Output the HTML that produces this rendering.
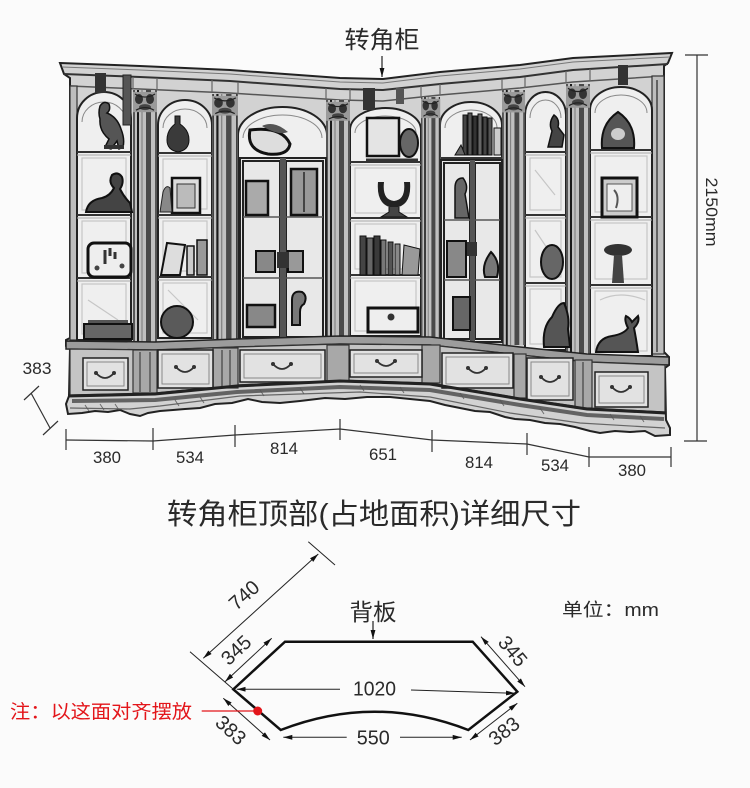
<!DOCTYPE html>
<html><head><meta charset="utf-8">
<style>
html,body{margin:0;padding:0;background:#fbfbfb;}
svg{display:block}
text{font-family:"Liberation Sans","Noto Sans CJK SC",sans-serif;fill:#2a2a2a}
</style></head><body>
<svg width="750" height="788" viewBox="0 0 750 788" xmlns="http://www.w3.org/2000/svg">
<defs>
<marker id="ah" viewBox="0 0 10 10" refX="10" refY="5" markerWidth="9" markerHeight="9" orient="auto-start-reverse" markerUnits="userSpaceOnUse">
<path d="M0,2.3 L10,5 L0,7.7 z" fill="#111"/>
</marker>
<g id="col">
<rect x="0" y="0" width="24" height="250" fill="#c0c0c0"/>
<line x1="1" y1="0" x2="1" y2="250" stroke="#333" stroke-width="1.5"/>
<line x1="5" y1="0" x2="5" y2="250" stroke="#1a1a1a" stroke-width="2"/>
<line x1="9" y1="0" x2="9" y2="250" stroke="#777" stroke-width="1"/>
<rect x="13" y="0" width="5" height="250" fill="#4a4a4a"/>
<line x1="23" y1="0" x2="23" y2="250" stroke="#333" stroke-width="1.5"/>
<rect x="0" y="2" width="24" height="20" fill="#9a9a9a"/>
<ellipse cx="6" cy="9" rx="4" ry="5" fill="#333"/>
<ellipse cx="17" cy="9" rx="4" ry="5" fill="#333"/>
<ellipse cx="12" cy="17" rx="6" ry="3" fill="#444"/>
<path d="M2,4 q10,6 20,0 M3,20 q9,-5 18,0" stroke="#222" stroke-width="1.2" fill="none"/>
</g>
</defs>

<!-- ===== TOP LABEL ===== -->
<text x="382" y="48" font-size="24" text-anchor="middle" textLength="75" lengthAdjust="spacingAndGlyphs">转角柜</text>
<line x1="382" y1="56" x2="382" y2="77" stroke="#222" stroke-width="1.2" marker-end="url(#ah)"/>

<!-- ===== CABINET ===== -->
<path d="M60,63 L140,66 L230,70 L340,78 L383,79 L440,72 L520,65 L573,58 L672,53 L668,63 L664,66 L664,352 L669,357 L669,365 L665,368 L666,420 L670,428 L670,435 L655,436 L645,431 L630,432 L615,431 L600,433 L590,431 L575,427 L560,424 L545,423 L530,420 L515,419 L505,417 L490,412 L475,411 L460,408 L445,405 L430,401 L410,399 L390,397 L367,397 L345,399 L325,398 L300,401 L280,403 L262,402 L248,399 L232,403 L215,404 L200,408 L185,409 L173,410 L160,411 L148,413 L140,416 L130,414 L120,410 L108,412 L95,411 L82,413 L68,414 L66,404 L69,396 L70,348 L66,346 L66,340 L70,338 L70,78 L64,74 Z" fill="#d2d2d2" stroke="#222" stroke-width="2"/>

<!-- cornice -->
<polyline points="64,74 140,77 230,81 340,89 383,90 440,84 520,77 573,70 668,64" fill="none" stroke="#333" stroke-width="2"/>
<polyline points="70,86 140,89 230,93 340,100 383,101 440,95 520,88 573,82 664,76" fill="none" stroke="#555" stroke-width="1.5"/>
<polyline points="62,67 140,70 230,74 340,82 383,83 440,76 520,69 573,62 670,57" fill="none" stroke="#777" stroke-width="1"/>
<g stroke="#666" stroke-width="1.2">
<line x1="133" y1="77" x2="133" y2="89"/><line x1="157" y1="78" x2="157" y2="90"/>
<line x1="212" y1="80" x2="212" y2="92"/><line x1="238" y1="82" x2="238" y2="94"/>
<line x1="326" y1="88" x2="326" y2="99"/><line x1="350" y1="89" x2="350" y2="100"/>
<line x1="421" y1="86" x2="421" y2="97"/><line x1="440" y1="84" x2="440" y2="95"/>
<line x1="502" y1="79" x2="502" y2="90"/><line x1="525" y1="77" x2="525" y2="88"/>
<line x1="566" y1="71" x2="566" y2="83"/><line x1="590" y1="69" x2="590" y2="81"/>
</g>

<!-- stiles -->
<rect x="70" y="86" width="7" height="254" fill="#bdbdbd" stroke="#333" stroke-width="1.2"/>
<rect x="652" y="76" width="12" height="278" fill="#bdbdbd" stroke="#333" stroke-width="1.2"/>
<line x1="657" y1="80" x2="657" y2="352" stroke="#444" stroke-width="1.5"/>

<!-- niches -->
<g fill="#efefef" stroke="#222" stroke-width="2">
<path d="M77,340 L77,118 A27,26 0 0 1 131,118 L131,340 Z"/>
<path d="M158,338 L158,125 A27,25 0 0 1 212,125 L212,338 Z"/>
<path d="M238,340 L238,135 A44.5,28 0 0 1 327,135 L327,340 Z"/>
<path d="M350,336 L350,130 A35.5,22 0 0 1 421,130 L421,336 Z"/>
<path d="M440,342 L440,125 A31,23 0 0 1 502,125 L502,342 Z"/>
<path d="M525,350 L525,115 A20.5,23 0 0 1 566,115 L566,350 Z"/>
<path d="M590,356 L590,110 A31,23 0 0 1 652,110 L652,356 Z"/>
</g>
<g fill="none" stroke="#888" stroke-width="1">
<path d="M82,122 A22,20 0 0 1 126,122"/>
<path d="M163,128 A22,19 0 0 1 207,128"/>
<path d="M243,138 A39.5,23 0 0 1 322,138"/>
<path d="M355,133 A30.5,17 0 0 1 416,133"/>
<path d="M445,128 A26,18 0 0 1 497,128"/>
<path d="M530,118 A15.5,18 0 0 1 561,118"/>
<path d="M595,113 A26,18 0 0 1 647,113"/>
</g>
<!-- faint back panels -->
<g fill="none" stroke="#c6c6c6" stroke-width="1.2">
<rect x="82" y="158" width="44" height="52"/><rect x="82" y="221" width="44" height="52"/><rect x="82" y="284" width="44" height="50"/>
<rect x="163" y="159" width="44" height="50"/><rect x="163" y="221" width="44" height="50"/><rect x="163" y="283" width="44" height="50"/>
<rect x="355" y="168" width="61" height="45"/><rect x="355" y="224" width="61" height="45"/><rect x="355" y="281" width="61" height="50"/>
<rect x="530" y="158" width="31" height="52"/><rect x="530" y="221" width="31" height="56"/><rect x="530" y="289" width="31" height="55"/>
<rect x="595" y="156" width="52" height="56"/><rect x="595" y="223" width="52" height="56"/><rect x="595" y="291" width="52" height="60"/>
<path d="M535,170 l20,25 M535,230 l20,30 M600,300 q20,-10 45,0 M88,300 l30,20 M168,290 l30,30"/>
</g>
<!-- shelves -->
<g stroke="#333" stroke-width="2">
<line x1="77" y1="152" x2="131" y2="152"/><line x1="77" y1="215" x2="131" y2="215"/><line x1="77" y1="278" x2="131" y2="278"/>
<line x1="158" y1="153" x2="212" y2="153"/><line x1="158" y1="215" x2="212" y2="215"/><line x1="158" y1="277" x2="212" y2="277"/>
<line x1="350" y1="162" x2="421" y2="162"/><line x1="350" y1="218" x2="421" y2="218"/><line x1="350" y1="275" x2="421" y2="275"/>
<line x1="440" y1="158" x2="502" y2="158"/>
<line x1="525" y1="152" x2="566" y2="152"/><line x1="525" y1="215" x2="566" y2="215"/><line x1="525" y1="283" x2="566" y2="283"/>
<line x1="590" y1="150" x2="652" y2="150"/><line x1="590" y1="217" x2="652" y2="217"/><line x1="590" y1="285" x2="652" y2="285"/>
</g>
<g stroke="#aaa" stroke-width="1">
<line x1="77" y1="155" x2="131" y2="155"/><line x1="77" y1="218" x2="131" y2="218"/><line x1="77" y1="281" x2="131" y2="281"/>
<line x1="158" y1="156" x2="212" y2="156"/><line x1="158" y1="218" x2="212" y2="218"/><line x1="158" y1="280" x2="212" y2="280"/>
<line x1="350" y1="165" x2="421" y2="165"/><line x1="350" y1="221" x2="421" y2="221"/><line x1="350" y1="278" x2="421" y2="278"/>
<line x1="525" y1="155" x2="566" y2="155"/><line x1="525" y1="218" x2="566" y2="218"/><line x1="525" y1="286" x2="566" y2="286"/>
<line x1="590" y1="153" x2="652" y2="153"/><line x1="590" y1="220" x2="652" y2="220"/><line x1="590" y1="288" x2="652" y2="288"/>
</g>

<!-- columns -->
<use href="#col" transform="translate(133,90) scale(1,1.008)"/>
<use href="#col" transform="translate(212,94) scale(1.083,0.98)"/>
<use href="#col" transform="translate(326,100) scale(1,0.944)"/>
<use href="#col" transform="translate(421,97) scale(0.8,0.96)"/>
<use href="#col" transform="translate(502,90) scale(0.96,1.02)"/>
<use href="#col" transform="translate(566,84) scale(1,1.08)"/>

<!-- cab1 objects -->
<rect x="95" y="73" width="11" height="20" fill="#333"/>
<rect x="123" y="75" width="8" height="50" fill="#555" stroke="#222"/>
<path d="M100,106 q4,-6 9,-2 q2,6 -2,9 q10,4 14,16 q4,10 2,18 l-4,2 l-2,-8 l-6,8 l-6,-2 l4,-8 q-10,-8 -9,-20 q-2,-6 0,-13z" fill="#555" stroke="#111" stroke-width="1.5"/>
<rect x="104" y="145" width="20" height="4" fill="#333"/>
<path d="M86,212 q2,-12 16,-14 q8,-2 12,-10 q-6,-6 -2,-13 q6,-4 10,2 q2,6 -2,12 q4,8 10,14 l2,9 z" fill="#444" stroke="#111" stroke-width="2"/>
<rect x="88" y="243" width="43" height="34" rx="6" fill="#eee" stroke="#111" stroke-width="3"/>
<path d="M105,250 v14 M110,248 v8 M115,252 v7" stroke="#333" stroke-width="3"/>
<circle cx="97" cy="268" r="2.5" fill="#444"/><circle cx="122" cy="266" r="2.5" fill="#444"/>
<rect x="88" y="320" width="40" height="6" fill="#555"/>
<rect x="84" y="324" width="48" height="15" fill="#666" stroke="#111" stroke-width="2"/>

<!-- cab2 objects -->
<path d="M175,116 h5 v8 q9,6 9,16 q0,10 -11,12 q-11,-2 -11,-12 q0,-10 8,-16z" fill="#3a3a3a" stroke="#111"/>
<rect x="172" y="178" width="28" height="35" fill="#ddd" stroke="#111" stroke-width="2.5"/>
<rect x="177" y="184" width="18" height="24" fill="#bbb" stroke="#333"/>
<path d="M160,212 l3,-20 q3,-8 7,-4 l2,24z" fill="#888" stroke="#222"/>
<path d="M161,275 l6,-32 l18,2 l-5,30z" fill="#ddd" stroke="#111" stroke-width="2"/>
<rect x="187" y="246" width="7" height="29" fill="#ccc" stroke="#111" stroke-width="1.5"/>
<rect x="197" y="240" width="10" height="35" fill="#999" stroke="#111" stroke-width="1.5"/>
<circle cx="177" cy="322" r="16" fill="#5a5a5a" stroke="#111" stroke-width="2"/>

<!-- cab3 objects and doors -->
<path d="M250,130 q-4,20 18,24 q20,2 22,-10 q-8,-18 -40,-14z" fill="#ddd" stroke="#111" stroke-width="3"/>
<path d="M262,126 q12,-6 26,6 q-10,4 -26,-6z" fill="#555"/>
<rect x="240" y="158" width="86" height="182" fill="#e8e8e8" stroke="#222" stroke-width="2"/>
<rect x="243" y="161" width="37" height="176" fill="none" stroke="#222" stroke-width="2"/>
<rect x="286" y="161" width="37" height="176" fill="none" stroke="#222" stroke-width="2"/>
<rect x="280" y="158" width="6" height="182" fill="#555"/>
<g stroke="#555" stroke-width="1.5"><line x1="243" y1="217" x2="280" y2="217"/><line x1="286" y1="217" x2="323" y2="217"/><line x1="243" y1="278" x2="280" y2="278"/><line x1="286" y1="278" x2="323" y2="278"/></g>
<rect x="246" y="181" width="22" height="34" fill="#aaa" stroke="#111" stroke-width="2.5"/>
<rect x="291" y="169" width="26" height="46" fill="#999" stroke="#111" stroke-width="2.5"/>
<line x1="304" y1="172" x2="304" y2="212" stroke="#444" stroke-width="2"/>
<rect x="256" y="251" width="19" height="21" fill="#888" stroke="#111" stroke-width="2"/>
<rect x="288" y="251" width="15" height="21" fill="#999" stroke="#111" stroke-width="2"/>
<rect x="247" y="305" width="28" height="22" fill="#888" stroke="#111" stroke-width="2.5"/>
<path d="M292,325 v-25 q0,-10 10,-8 q6,4 2,12 q-4,2 -4,8 v13z" fill="#777" stroke="#111" stroke-width="2"/>
<rect x="277" y="252" width="12" height="16" fill="#333"/>

<!-- cab4 objects -->
<rect x="363" y="88" width="12" height="22" fill="#333"/>
<rect x="396" y="88" width="8" height="16" fill="#555"/>
<rect x="367" y="118" width="32" height="38" fill="#e4e4e4" stroke="#111" stroke-width="2.5"/>
<ellipse cx="409" cy="143" rx="9" ry="14" fill="#666" stroke="#111" stroke-width="2"/>
<path d="M366,160 h52" stroke="#333" stroke-width="3"/>
<path d="M378,182 q-2,24 16,26 q18,-2 16,-26 l-6,0 q2,18 -10,19 q-12,-1 -10,-19z" fill="#222"/>
<path d="M389,207 v5 l-8,5 h26 l-8,-5 v-5" fill="#444" stroke="#111"/>
<g stroke="#111" stroke-width="1">
<rect x="360" y="236" width="6" height="39" fill="#444"/>
<rect x="367" y="238" width="6" height="37" fill="#666"/>
<rect x="374" y="236" width="6" height="39" fill="#3a3a3a"/>
<rect x="381" y="240" width="5" height="35" fill="#777"/>
<rect x="388" y="242" width="5" height="33" fill="#555"/>
<rect x="395" y="244" width="5" height="31" fill="#888"/>
<path d="M402,275 l2,-30 l16,4 l-2,26z" fill="#999"/>
</g>
<rect x="368" y="308" width="50" height="24" fill="#eee" stroke="#111" stroke-width="3"/>
<circle cx="391" cy="317" r="3.5" fill="#333"/>

<!-- cab5 objects and doors -->
<g stroke="#111" stroke-width="1">
<rect x="463" y="115" width="4" height="40" fill="#444"/><rect x="468" y="113" width="4" height="42" fill="#555"/>
<rect x="473" y="116" width="4" height="39" fill="#333"/><rect x="478" y="114" width="4" height="41" fill="#666"/>
<rect x="483" y="117" width="4" height="38" fill="#444"/><rect x="488" y="118" width="4" height="37" fill="#555"/>
<rect x="494" y="128" width="7" height="27" fill="#ccc"/>
<path d="M455,155 l6,-10 l4,10z" fill="#666"/>
</g>
<rect x="441" y="160" width="61" height="182" fill="#e8e8e8" stroke="#222" stroke-width="2"/>
<rect x="444" y="163" width="26" height="176" fill="none" stroke="#222" stroke-width="2"/>
<rect x="475" y="163" width="25" height="176" fill="none" stroke="#222" stroke-width="2"/>
<rect x="470" y="160" width="5" height="182" fill="#555"/>
<g stroke="#555" stroke-width="1.5"><line x1="444" y1="220" x2="470" y2="220"/><line x1="475" y1="220" x2="500" y2="220"/><line x1="444" y1="280" x2="470" y2="280"/><line x1="475" y1="280" x2="500" y2="280"/></g>
<path d="M455,218 v-30 q0,-10 8,-10 q6,8 2,16 l4,24z" fill="#666" stroke="#111" stroke-width="1.5"/>
<rect x="447" y="241" width="19" height="36" fill="#888" stroke="#111" stroke-width="2"/>
<path d="M485,277 q-4,-12 6,-25 q10,10 6,25z" fill="#777" stroke="#111" stroke-width="2"/>
<rect x="453" y="297" width="17" height="33" fill="#666" stroke="#111" stroke-width="2"/>
<rect x="467" y="242" width="10" height="14" fill="#333"/>

<!-- cab6 objects -->
<path d="M548,147 l4,-16 q-4,-8 2,-16 q6,4 4,12 l6,8 l-2,12z" fill="#444" stroke="#111" stroke-width="1.5"/>
<ellipse cx="552" cy="262" rx="11" ry="17" fill="#666" stroke="#111" stroke-width="2"/>
<path d="M544,347 q-2,-20 8,-30 q6,-14 12,-14 q6,14 4,26 l2,18z" fill="#555" stroke="#111" stroke-width="2"/>

<!-- cab7 objects -->
<rect x="618" y="65" width="10" height="20" fill="#333"/>
<path d="M602,148 q-2,-24 16,-36 q18,12 16,36z" fill="#555" stroke="#111" stroke-width="2"/>
<ellipse cx="618" cy="134" rx="7" ry="6" fill="#ccc"/>
<rect x="602" y="178" width="35" height="39" fill="#ccc" stroke="#111" stroke-width="3"/>
<rect x="607" y="184" width="25" height="27" fill="#eee" stroke="#555"/>
<path d="M614,190 q6,6 2,18" stroke="#555" stroke-width="2" fill="none"/>
<ellipse cx="618" cy="250" rx="14" ry="6" fill="#333"/>
<path d="M614,255 h8 l2,28 h-12z" fill="#444"/>
<path d="M596,352 q2,-14 16,-16 q12,-2 16,-8 q-4,-8 -2,-12 q4,2 6,6 q4,-4 6,-6 q2,6 -4,12 q2,10 4,24z" fill="#555" stroke="#111" stroke-width="2"/>

<!-- base -->
<polygon points="66,341 155,342 237,339 340,336 430,337 520,347 587,354 669,357 669,365 587,362 520,355 430,345 340,344 237,347 155,350 66,349" fill="#9c9c9c" stroke="#222" stroke-width="1.5"/>
<polygon points="70,349 155,350 237,347 340,344 430,345 520,355 587,362 665,365 665,412 587,408 520,398 430,383 340,380 237,385 155,393 70,395" fill="#c4c4c4" stroke="#333" stroke-width="1.2"/>
<g fill="#a8a8a8" stroke="#333" stroke-width="1.2">
<rect x="133" y="350" width="24" height="43"/>
<rect x="213" y="348" width="25" height="40"/>
<rect x="327" y="345" width="22" height="36"/>
<rect x="422" y="345" width="18" height="38"/>
<rect x="514" y="354" width="12" height="44"/>
<rect x="575" y="360" width="17" height="48"/>
</g>
<g stroke="#555" stroke-width="1.5">
<line x1="140" y1="352" x2="140" y2="392"/><line x1="150" y1="352" x2="150" y2="392"/>
<line x1="222" y1="350" x2="222" y2="387"/><line x1="230" y1="350" x2="230" y2="387"/>
<line x1="583" y1="362" x2="583" y2="407"/>
</g>
<!-- drawers -->
<g fill="#e2e2e2" stroke="#222" stroke-width="1.5">
<rect x="83" y="358" width="45" height="32"/>
<rect x="158" y="350" width="55" height="38"/>
<rect x="240" y="350" width="85" height="32"/>
<rect x="350" y="350" width="72" height="27"/>
<rect x="442" y="353" width="71" height="35"/>
<rect x="527" y="358" width="46" height="42"/>
<rect x="595" y="372" width="53" height="35"/>
</g>
<g fill="none" stroke="#888" stroke-width="1">
<rect x="87" y="362" width="37" height="24"/>
<rect x="162" y="354" width="47" height="30"/>
<rect x="244" y="354" width="77" height="24"/>
<rect x="354" y="354" width="64" height="19"/>
<rect x="446" y="357" width="63" height="27"/>
<rect x="531" y="362" width="38" height="34"/>
<rect x="599" y="376" width="45" height="27"/>
</g>
<g fill="none" stroke="#333" stroke-width="1.8">
<path d="M96,373 q9,10 18,0"/>
<path d="M176,367 q9,10 18,0"/>
<path d="M273,364 q9,10 18,0"/>
<path d="M377,361 q9,10 18,0"/>
<path d="M468,368 q9,10 18,0"/>
<path d="M541,377 q9,10 18,0"/>
<path d="M612,387 q9,10 18,0"/>
</g>
<g fill="#333">
<circle cx="96" cy="373" r="2"/><circle cx="114" cy="373" r="2"/>
<circle cx="176" cy="367" r="2"/><circle cx="194" cy="367" r="2"/>
<circle cx="273" cy="364" r="2"/><circle cx="291" cy="364" r="2"/>
<circle cx="377" cy="361" r="2"/><circle cx="395" cy="361" r="2"/>
<circle cx="468" cy="368" r="2"/><circle cx="486" cy="368" r="2"/>
<circle cx="541" cy="377" r="2"/><circle cx="559" cy="377" r="2"/>
<circle cx="612" cy="387" r="2"/><circle cx="630" cy="387" r="2"/>
</g>
<polyline points="68,396 155,394 237,386 340,381 430,384 520,399 587,409 666,413" fill="none" stroke="#222" stroke-width="3"/>
<polyline points="72,401 155,400 237,392 340,387 430,390 520,405 587,415 664,419" fill="none" stroke="#333" stroke-width="4" opacity="0.7"/>
<polyline points="70,408 130,409 160,406 240,396 360,392 430,397 510,413 580,423 665,428" fill="none" stroke="#666" stroke-width="1.2"/>
<g stroke="#555" stroke-width="1" opacity="0.8">
<path d="M85,405 l4,6 M100,404 l4,6 M115,404 l4,6 M175,400 l4,6 M200,397 l4,6 M260,390 l4,6 M300,388 l4,6 M360,385 l4,6 M400,387 l4,6 M460,393 l4,6 M500,400 l4,6 M540,408 l4,6 M610,414 l4,6 M640,416 l4,6"/>
</g>

<!-- height dimension -->
<line x1="697" y1="55" x2="697" y2="441" stroke="#333" stroke-width="1.2"/>
<line x1="685" y1="55" x2="708" y2="55" stroke="#333" stroke-width="1.2"/>
<line x1="684" y1="441" x2="707" y2="441" stroke="#333" stroke-width="1.2"/>
<text transform="translate(706,212) rotate(90)" text-anchor="middle" font-size="17" textLength="69" lengthAdjust="spacingAndGlyphs">2150mm</text>

<!-- depth 383 -->
<text x="37" y="374" font-size="17" text-anchor="middle" textLength="29" lengthAdjust="spacingAndGlyphs">383</text>
<g stroke="#333" stroke-width="1.2">
<line x1="31" y1="393" x2="50" y2="428"/>
<line x1="24" y1="400" x2="39" y2="386"/>
<line x1="43" y1="435" x2="58" y2="421"/>
</g>

<!-- bottom dims -->
<polyline points="66,440 153,441 235,435 340,429 432,440 527,444 589,457 671,457" fill="none" stroke="#333" stroke-width="1.2"/>
<g stroke="#333" stroke-width="1.2">
<line x1="66" y1="429" x2="66" y2="450"/>
<line x1="153" y1="428" x2="153" y2="450"/>
<line x1="235" y1="425" x2="235" y2="447"/>
<line x1="340" y1="419" x2="340" y2="440"/>
<line x1="432" y1="430" x2="432" y2="452"/>
<line x1="527" y1="433" x2="527" y2="455"/>
<line x1="589" y1="447" x2="589" y2="467"/>
<line x1="671" y1="447" x2="671" y2="467"/>
</g>
<g font-size="17" text-anchor="middle">
<text x="107" y="463" textLength="28" lengthAdjust="spacingAndGlyphs">380</text>
<text x="190" y="463" textLength="28" lengthAdjust="spacingAndGlyphs">534</text>
<text x="284" y="454" textLength="28" lengthAdjust="spacingAndGlyphs">814</text>
<text x="383" y="460" textLength="28" lengthAdjust="spacingAndGlyphs">651</text>
<text x="479" y="468" textLength="28" lengthAdjust="spacingAndGlyphs">814</text>
<text x="555" y="471" textLength="28" lengthAdjust="spacingAndGlyphs">534</text>
<text x="632" y="476" textLength="28" lengthAdjust="spacingAndGlyphs">380</text>
</g>

<!-- ===== BOTTOM SECTION ===== -->
<text x="374" y="524" font-size="29" text-anchor="middle" textLength="414" lengthAdjust="spacingAndGlyphs" fill="#333">转角柜顶部(占地面积)详细尺寸</text>

<text x="373" y="620" font-size="23" text-anchor="middle" textLength="47" lengthAdjust="spacingAndGlyphs">背板</text>
<line x1="373" y1="621" x2="373" y2="639" stroke="#222" stroke-width="1.2" marker-end="url(#ah)"/>

<text x="562" y="616" font-size="18" textLength="97" lengthAdjust="spacingAndGlyphs">单位：mm</text>

<path d="M285,641.7 L472.7,641.7 L517.3,691.7 L468.3,730 Q374.5,693.4 280.7,730 L233.3,689.3 Z" fill="none" stroke="#111" stroke-width="2.5" stroke-linejoin="miter"/>

<!-- 740 -->
<line x1="203.3" y1="658.3" x2="318.3" y2="554" stroke="#222" stroke-width="1" marker-start="url(#ah)" marker-end="url(#ah)"/>
<line x1="308.3" y1="541.7" x2="335" y2="565" stroke="#222" stroke-width="1"/>
<line x1="190" y1="651.7" x2="233.3" y2="689.3" stroke="#222" stroke-width="1"/>
<text transform="translate(244,595) rotate(-42)" font-size="20" text-anchor="middle" dy="7" textLength="33" lengthAdjust="spacingAndGlyphs">740</text>

<!-- 345 left -->
<line x1="225" y1="681.7" x2="271.7" y2="638.3" stroke="#222" stroke-width="1" marker-start="url(#ah)" marker-end="url(#ah)"/>
<text transform="translate(236,650) rotate(-43)" font-size="20" text-anchor="middle" dy="7" textLength="33" lengthAdjust="spacingAndGlyphs">345</text>

<!-- 345 right -->
<line x1="481" y1="636.7" x2="525" y2="686.7" stroke="#222" stroke-width="1" marker-start="url(#ah)" marker-end="url(#ah)"/>
<text transform="translate(513,651) rotate(50)" font-size="20" text-anchor="middle" dy="7" textLength="33" lengthAdjust="spacingAndGlyphs">345</text>

<!-- 1020 -->
<line x1="340" y1="689.3" x2="236.7" y2="689.3" stroke="#222" stroke-width="1" marker-end="url(#ah)"/>
<line x1="411" y1="690" x2="515" y2="693.3" stroke="#222" stroke-width="1" marker-end="url(#ah)"/>
<text x="374.5" y="695.5" font-size="20" text-anchor="middle" textLength="43" lengthAdjust="spacingAndGlyphs">1020</text>

<!-- 383 left -->
<line x1="223.3" y1="698.3" x2="270" y2="740" stroke="#222" stroke-width="1" marker-start="url(#ah)" marker-end="url(#ah)"/>
<text transform="translate(231,730) rotate(42)" font-size="20" text-anchor="middle" dy="7" textLength="33" lengthAdjust="spacingAndGlyphs">383</text>

<!-- 383 right -->
<line x1="517.3" y1="703.3" x2="470" y2="740" stroke="#222" stroke-width="1" marker-start="url(#ah)" marker-end="url(#ah)"/>
<text transform="translate(504,731) rotate(-38)" font-size="20" text-anchor="middle" dy="7" textLength="33" lengthAdjust="spacingAndGlyphs">383</text>

<!-- 550 -->
<line x1="346.7" y1="737.3" x2="283.3" y2="737.3" stroke="#222" stroke-width="1" marker-end="url(#ah)"/>
<line x1="400" y1="737.3" x2="461.7" y2="737.3" stroke="#222" stroke-width="1" marker-end="url(#ah)"/>
<text x="373.3" y="744.5" font-size="20" text-anchor="middle" textLength="33" lengthAdjust="spacingAndGlyphs">550</text>

<!-- red note -->
<text x="10" y="718" font-size="19" textLength="182" lengthAdjust="spacingAndGlyphs" style="fill:#e3151a">注：以这面对齐摆放</text>
<line x1="201.7" y1="711" x2="254" y2="711" stroke="#e3151a" stroke-width="1.2"/>
<circle cx="257.7" cy="711" r="4.5" fill="#e3151a"/>
</svg>
</body></html>
